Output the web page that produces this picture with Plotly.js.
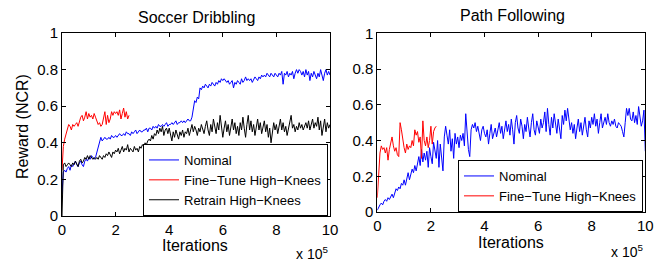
<!DOCTYPE html>
<html><head><meta charset="utf-8">
<script src="https://cdn.plot.ly/plotly-3.0.1.min.js"></script>
<style>html,body{margin:0;padding:0;background:#fff}</style>
</head><body><div id="chart" style="width:668px;height:262px"></div>
<script>
// iteration spacing between samples (units of 10^5 iterations)
const stepSize = 0.05;

const panelTitles = ["Soccer Dribbling", "Path Following"];
const seriesNames = ["Nominal", "Fine\u2212Tune High\u2212Knees", "Retrain High\u2212Knees"];
const xTicks = [0, 2, 4, 6, 8, 10];
const yTicks = [0, 0.2, 0.4, 0.6, 0.8, 1];

// Soccer Dribbling
const soccerNominal = [
  0.12, 0.24, 0.25, 0.24, 0.26, 0.27, 0.25, 0.28, 0.27, 0.29, 0.30,
  0.28, 0.27, 0.29, 0.30, 0.28, 0.27, 0.30, 0.31, 0.30, 0.32,
  0.31, 0.33, 0.32, 0.31, 0.32, 0.35, 0.38, 0.41, 0.43, 0.41,
  0.42, 0.43, 0.42, 0.42, 0.43, 0.42, 0.44, 0.43, 0.43, 0.44,
  0.43, 0.44, 0.45, 0.44, 0.44, 0.45, 0.44, 0.46, 0.45, 0.45,
  0.44, 0.46, 0.45, 0.46, 0.47, 0.45, 0.46, 0.47, 0.46, 0.46,
  0.47, 0.47, 0.48, 0.46, 0.48, 0.48, 0.47, 0.49, 0.48, 0.49,
  0.48, 0.50, 0.49, 0.49, 0.50, 0.49, 0.50, 0.51, 0.49, 0.50,
  0.50, 0.51, 0.50, 0.51, 0.52, 0.50, 0.51, 0.51, 0.52, 0.51,
  0.52, 0.51, 0.52, 0.53, 0.52, 0.52, 0.54, 0.59, 0.63, 0.62,
  0.65, 0.64, 0.70, 0.69, 0.71, 0.70, 0.72, 0.71, 0.70, 0.72,
  0.71, 0.73, 0.72, 0.71, 0.73, 0.72, 0.74, 0.73, 0.75, 0.74,
  0.75, 0.74, 0.73, 0.74, 0.72, 0.73, 0.74, 0.70, 0.73, 0.72,
  0.74, 0.73, 0.72, 0.75, 0.73, 0.74, 0.76, 0.74, 0.75, 0.74,
  0.75, 0.73, 0.75, 0.76, 0.75, 0.74, 0.76, 0.75, 0.77, 0.76,
  0.77, 0.76, 0.78, 0.77, 0.76, 0.78, 0.77, 0.76, 0.78, 0.77,
  0.76, 0.78, 0.77, 0.79, 0.72, 0.78, 0.77, 0.79, 0.76, 0.78,
  0.77, 0.79, 0.75, 0.78, 0.80, 0.78, 0.80, 0.79, 0.77, 0.79,
  0.76, 0.80, 0.77, 0.79, 0.74, 0.78, 0.76, 0.79, 0.77, 0.75,
  0.78, 0.76, 0.80, 0.77, 0.74, 0.78, 0.80, 0.77, 0.79, 0.77
];
const soccerFineTune = [
  0.25, 0.38, 0.42, 0.45, 0.47, 0.50, 0.49, 0.47, 0.50, 0.49, 0.50,
  0.51, 0.49, 0.52, 0.54, 0.55, 0.52, 0.54, 0.57, 0.53, 0.56,
  0.54, 0.55, 0.53, 0.56, 0.54, 0.52, 0.50, 0.51, 0.49, 0.50,
  0.53, 0.57, 0.50, 0.55, 0.51, 0.53, 0.57, 0.55, 0.57, 0.56,
  0.57, 0.55, 0.58, 0.53, 0.56, 0.59, 0.54, 0.57, 0.53, 0.55
];
const soccerRetrain = [
  0.00, 0.28, 0.29, 0.27, 0.28, 0.29, 0.28, 0.27, 0.29, 0.28, 0.30,
  0.28, 0.27, 0.30, 0.31, 0.29, 0.30, 0.32, 0.31, 0.33, 0.31,
  0.33, 0.32, 0.31, 0.32, 0.31, 0.32, 0.31, 0.33, 0.32, 0.31,
  0.33, 0.32, 0.34, 0.33, 0.35, 0.33, 0.32, 0.35, 0.34, 0.36,
  0.35, 0.37, 0.34, 0.36, 0.38, 0.35, 0.37, 0.36, 0.39, 0.35,
  0.37, 0.36, 0.35, 0.38, 0.36, 0.37, 0.35, 0.38, 0.37, 0.39,
  0.38, 0.40, 0.39, 0.41, 0.42, 0.41, 0.44, 0.42, 0.45, 0.44,
  0.47, 0.45, 0.48, 0.46, 0.49, 0.44, 0.47, 0.48, 0.45, 0.48,
  0.44, 0.41, 0.46, 0.43, 0.47, 0.45, 0.42, 0.46, 0.44, 0.47,
  0.43, 0.46, 0.45, 0.48, 0.44, 0.47, 0.50, 0.46, 0.49, 0.47,
  0.44, 0.48, 0.46, 0.50, 0.47, 0.45, 0.49, 0.52, 0.47, 0.44,
  0.50, 0.46, 0.53, 0.48, 0.45, 0.51, 0.47, 0.55, 0.49, 0.43,
  0.48, 0.52, 0.46, 0.50, 0.44, 0.49, 0.53, 0.47, 0.51, 0.45,
  0.49, 0.44, 0.51, 0.47, 0.54, 0.48, 0.43, 0.50, 0.55, 0.47,
  0.52, 0.46, 0.50, 0.44, 0.49, 0.53, 0.47, 0.51, 0.45, 0.49,
  0.52, 0.46, 0.50, 0.43, 0.48, 0.40, 0.46, 0.51, 0.47, 0.50,
  0.45, 0.49, 0.53, 0.47, 0.51, 0.46, 0.49, 0.44, 0.48, 0.52,
  0.55, 0.48, 0.50, 0.46, 0.49, 0.47, 0.51, 0.48, 0.50, 0.47,
  0.49, 0.51, 0.48, 0.52, 0.47, 0.50, 0.53, 0.48, 0.51, 0.49,
  0.54, 0.47, 0.52, 0.44, 0.50, 0.53, 0.46, 0.51, 0.48, 0.50
];

// Path Following
const pathNominal = [
  0.01, 0.03, 0.04, 0.05, 0.04, 0.06, 0.07, 0.06, 0.08, 0.07, 0.09,
  0.10, 0.08, 0.11, 0.13, 0.12, 0.14, 0.13, 0.16, 0.15, 0.18,
  0.15, 0.19, 0.22, 0.18, 0.21, 0.24, 0.22, 0.26, 0.23, 0.27,
  0.31, 0.26, 0.35, 0.28, 0.33, 0.29, 0.34, 0.25, 0.36, 0.31,
  0.27, 0.39, 0.33, 0.30, 0.40, 0.25, 0.38, 0.32, 0.23, 0.42,
  0.48, 0.43, 0.38, 0.46, 0.34, 0.41, 0.30, 0.44, 0.38, 0.42,
  0.36, 0.43, 0.40, 0.44, 0.37, 0.55, 0.42, 0.35, 0.31, 0.46,
  0.49, 0.47, 0.50, 0.45, 0.48, 0.43, 0.40, 0.46, 0.48, 0.44,
  0.42, 0.46, 0.38, 0.44, 0.49, 0.41, 0.45, 0.47, 0.42, 0.46,
  0.50, 0.44, 0.48, 0.41, 0.47, 0.51, 0.45, 0.49, 0.43, 0.52,
  0.46, 0.38, 0.50, 0.54, 0.47, 0.44, 0.52, 0.48, 0.41, 0.49,
  0.45, 0.53, 0.47, 0.42, 0.50, 0.55, 0.46, 0.43, 0.51, 0.48,
  0.44, 0.52, 0.47, 0.50, 0.56, 0.45, 0.58, 0.49, 0.43, 0.53,
  0.47, 0.55, 0.50, 0.44, 0.52, 0.46, 0.41, 0.54, 0.49, 0.57,
  0.51, 0.58, 0.53, 0.46, 0.50, 0.44, 0.49, 0.41, 0.47, 0.52,
  0.45, 0.50, 0.43, 0.48, 0.53, 0.46, 0.42, 0.51, 0.47, 0.53,
  0.49, 0.55, 0.48, 0.52, 0.44, 0.50, 0.55, 0.47, 0.51, 0.53,
  0.49, 0.55, 0.50, 0.48, 0.51, 0.49, 0.52, 0.48, 0.47, 0.50,
  0.49, 0.48, 0.45, 0.42, 0.50, 0.58, 0.54, 0.58, 0.52, 0.51,
  0.56, 0.50, 0.54, 0.49, 0.59, 0.52, 0.48, 0.51, 0.57, 0.34
];
const pathFineTune = [
  0.08, 0.22, 0.33, 0.37, 0.35, 0.36, 0.33, 0.36, 0.29, 0.35, 0.38,
  0.42, 0.37, 0.34, 0.36, 0.32, 0.31, 0.50, 0.46, 0.40, 0.36,
  0.33, 0.38, 0.35, 0.37, 0.36, 0.40, 0.37, 0.46, 0.43, 0.45,
  0.39, 0.42, 0.30, 0.51, 0.40, 0.37, 0.42, 0.36, 0.40, 0.48,
  0.38, 0.45, 0.47, 0.48
];

const colors = ["#0000ff", "#ff0000", "#000000"];
const fontFam = "Liberation Sans, Arial, Helvetica, sans-serif";

function xsFor(arr) { return arr.map((_, i) => +(i * stepSize).toFixed(2)); }

function line(y, name, color, xa, ya, legend) {
  return { type: "scatter", mode: "lines", x: xsFor(y), y: y, name: name,
    line: { color: color, width: 1 }, xaxis: xa, yaxis: ya, legend: legend };
}

const traces = [
  line(soccerNominal, seriesNames[0], colors[0], "x", "y", "legend"),
  line(soccerFineTune, seriesNames[1], colors[1], "x", "y", "legend"),
  line(soccerRetrain, seriesNames[2], colors[2], "x", "y", "legend"),
  line(pathNominal, seriesNames[0], colors[0], "x2", "y2", "legend2"),
  line(pathFineTune, seriesNames[1], colors[1], "x2", "y2", "legend2")
];

function axis(domain, anchor, tickvals) {
  return { domain: domain, anchor: anchor, range: [tickvals[0], tickvals[tickvals.length - 1]],
    tickvals: tickvals, ticktext: tickvals.map(String), ticks: "inside", ticklen: 4,
    tickcolor: "#000", tickwidth: 1, showline: true, linecolor: "#000", linewidth: 1,
    mirror: "ticks", showgrid: false, zeroline: false,
    tickfont: { family: fontFam, size: 15, color: "#000" } };
}

const W = 668, H = 262;
const L = { x0: 62, x1: 330, y0: 33, y1: 216 };
const R = { x0: 377.3, x1: 645.3, y0: 33.3, y1: 212 };

const legendStyle = (x, y) => ({ x: x, y: y, xanchor: "left", yanchor: "top",
  bgcolor: "#fff", bordercolor: "#000", borderwidth: 1,
  font: { family: fontFam, size: 13, color: "#000" }, tracegroupgap: 0 });

const ann = (text, x, y, size, extra) => Object.assign({ text: text, x: x, y: y,
  xref: "paper", yref: "paper", showarrow: false, xanchor: "center", yanchor: "middle",
  font: { family: fontFam, size: size, color: "#000" } }, extra || {});

const layout = {
  width: W, height: H, margin: { l: 0, r: 0, t: 0, b: 0 },
  paper_bgcolor: "#fff", plot_bgcolor: "#fff", showlegend: true,
  xaxis: axis([L.x0 / W, L.x1 / W], "y", xTicks),
  yaxis: axis([1 - L.y1 / H, 1 - L.y0 / H], "x", yTicks),
  xaxis2: axis([R.x0 / W, R.x1 / W], "y2", xTicks),
  yaxis2: axis([1 - R.y1 / H, 1 - R.y0 / H], "x2", yTicks),
  legend: legendStyle(143 / W, 1 - 144 / H),
  legend2: legendStyle(458 / W, 1 - 160 / H),
  annotations: [
    ann(panelTitles[0], 196 / W, 1 - 17 / H, 16),
    ann(panelTitles[1], 512 / W, 1 - 16 / H, 16),
    ann("Reward (NCR)", 22 / W, 1 - 127 / H, 16, { textangle: -90 }),
    ann("Iterations", 195 / W, 1 - 245 / H, 16),
    ann("Iterations", 511 / W, 1 - 242 / H, 16),
    ann("x 10<sup>5</sup>", 312 / W, 1 - 253 / H, 14),
    ann("x 10<sup>5</sup>", 627 / W, 1 - 251 / H, 14)
  ]
};

Plotly.newPlot("chart", traces, layout, { staticPlot: true, displayModeBar: false });
</script></body></html>
